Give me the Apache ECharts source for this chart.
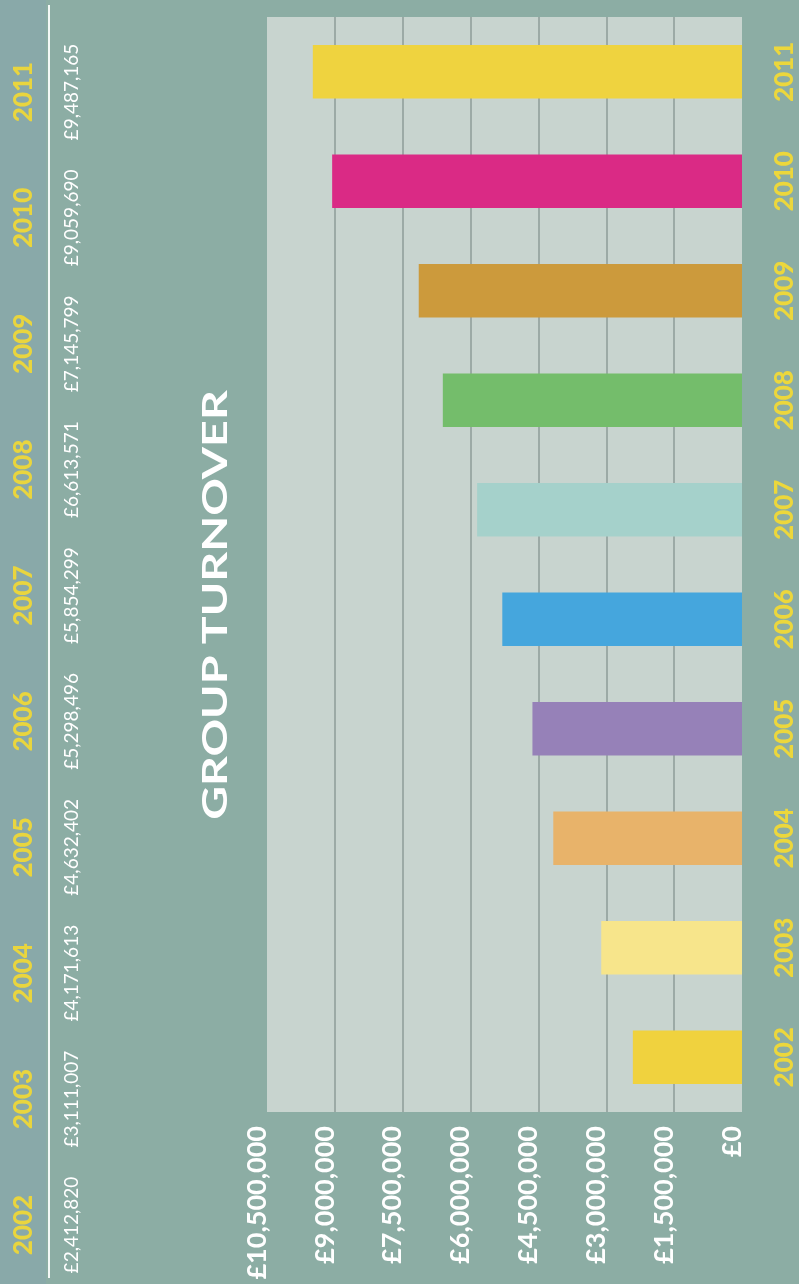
<!DOCTYPE html>
<html>
<head>
<meta charset="utf-8">
<script src="https://cdn.jsdelivr.net/npm/echarts@6/dist/echarts.min.js"></script>
<style>
  html, body { margin: 0; padding: 0; background: #8cada4; }
  #chart { width: 799px; height: 1284px; }
</style>
</head>
<body>
<div id="chart"></div>
<script>
const years = ['2002', '2003', '2004', '2005', '2006', '2007', '2008', '2009', '2010', '2011'];
const turnover = [2412820, 3111007, 4171613, 4632402, 5298496, 5854299, 6613571, 7145799, 9059690, 9487165];
const barColors = ['#f0d23e', '#f7e58b', '#e8b36a', '#9681b8', '#45a6dd', '#a5d1cb', '#74bd6b', '#cc9a3c', '#da2a85', '#efd33f'];
const valueTicks = [0, 1500000, 3000000, 4500000, 6000000, 7500000, 9000000, 10500000];
const titleText = 'GROUP TURNOVER';

function money(v) {
  return '£' + String(Math.round(v)).replace(/\B(?=(\d{3})+(?!\d))/g, ',');
}

const chart = echarts.init(document.getElementById('chart'), null, { renderer: 'canvas' });

const option = {
  backgroundColor: '#8cada4',
  animation: false,
  grid: [
    { left: 267, right: 57, top: 17, bottom: 172, show: true, backgroundColor: '#c8d4cf', borderWidth: 0 },
    { left: 49, width: 1, top: 92, bottom: 59 }
  ],
  xAxis: [
    {
      gridIndex: 0,
      type: 'value',
      inverse: true,
      position: 'bottom',
      min: valueTicks[0],
      max: valueTicks[valueTicks.length - 1],
      interval: valueTicks[1] - valueTicks[0],
      axisLine: { show: false },
      axisTick: { show: false },
      splitLine: { show: true, showMinLine: false, showMaxLine: false, lineStyle: { color: '#8e9d99', width: 1.5 } },
      axisLabel: {
        rotate: 90,
        margin: 14,
        color: '#ffffff',
        fontFamily: 'Lato',
        fontWeight: 'bold',
        fontSize: 27,
        lineHeight: 20,
        verticalAlign: 'bottom',
        showMinLabel: true,
        showMaxLabel: true,
        formatter: function (v) { return money(v); }
      }
    },
    { gridIndex: 1, type: 'value', show: false }
  ],
  yAxis: [
    {
      gridIndex: 0,
      type: 'category',
      position: 'right',
      data: years,
      axisLine: { show: false },
      axisTick: { show: false },
      splitLine: { show: false },
      axisLabel: {
        interval: 0,
        rotate: 90,
        margin: 30,
        color: '#ecd73c',
        fontFamily: 'Lato',
        fontWeight: 900,
        fontSize: 26
      }
    },
    {
      gridIndex: 1,
      type: 'category',
      position: 'left',
      boundaryGap: false,
      data: years,
      axisLine: { show: false },
      axisTick: { show: false },
      splitLine: { show: false },
      axisLabel: {
        interval: 0,
        rotate: 90,
        margin: 12,
        color: '#e9d53e',
        fontFamily: 'Lato',
        fontWeight: 900,
        fontSize: 26
      }
    },
    {
      gridIndex: 1,
      type: 'category',
      position: 'right',
      boundaryGap: false,
      data: years,
      axisLine: { show: false },
      axisTick: { show: false },
      splitLine: { show: false },
      axisLabel: {
        interval: 0,
        rotate: 90,
        margin: 12,
        color: '#ffffff',
        fontFamily: 'Lato',
        fontSize: 19,
        formatter: function (v, i) { return money(turnover[i]); }
      }
    }
  ],
  graphic: [
    {
      type: 'rect',
      z: -10,
      shape: { x: 0, y: 0, width: 46, height: 1284 },
      style: { fill: '#89a9a9' },
      silent: true
    },
    {
      type: 'line',
      shape: { x1: 49, y1: 5, x2: 49, y2: 1278 },
      style: { stroke: '#f4f8f6', lineWidth: 2 },
      silent: true
    },
    {
      type: 'text',
      x: 216,
      y: 605,
      rotation: Math.PI / 2,
      scaleX: 1.37,
      style: {
        text: titleText,
        fill: '#ffffff',
        font: 'bold 34px Lato',
        textAlign: 'center',
        textVerticalAlign: 'middle'
      },
      silent: true
    }
  ],
  series: [
    {
      type: 'bar',
      xAxisIndex: 0,
      yAxisIndex: 0,
      barWidth: '49%',
      data: turnover.map(function (v, i) {
        return { value: v, itemStyle: { color: barColors[i] } };
      })
    }
  ]
};

chart.setOption(option);
</script>
</body>
</html>
